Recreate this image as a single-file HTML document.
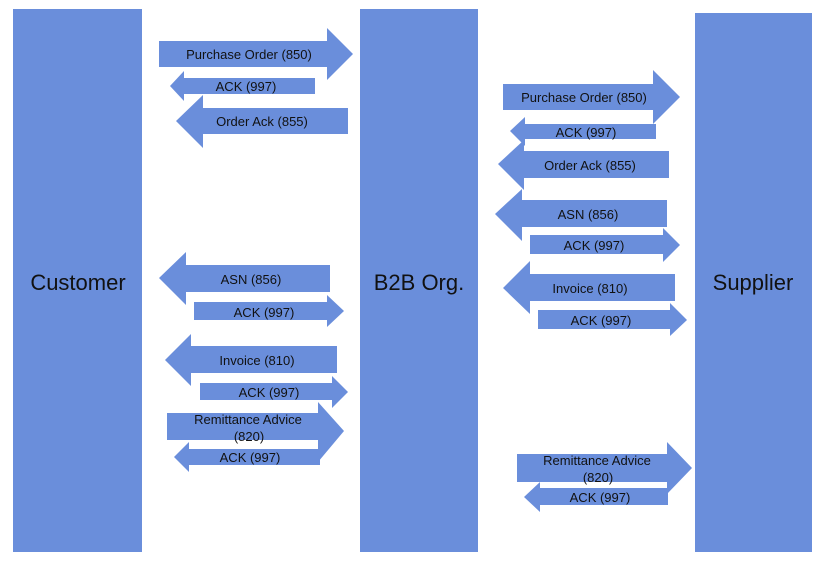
<!DOCTYPE html>
<html><head><meta charset="utf-8"><style>
html,body{margin:0;padding:0;background:#fff;}
svg{display:block;}
text{font-family:"Liberation Sans",Arial,sans-serif;fill:#111;}
</style></head><body>
<svg width="836" height="566" viewBox="0 0 836 566" xmlns="http://www.w3.org/2000/svg">
<g fill="#6a8edb">
<rect x="13" y="9" width="129" height="543"/>
<rect x="360" y="9" width="118" height="543"/>
<rect x="695" y="13" width="117" height="539"/>
<!-- Customer side -->
<polygon points="159,41 327,41 327,28 353,54 327,80 327,67 159,67"/>
<polygon points="315,78 184,78 184,71 170,86 184,101 184,94 315,94"/>
<polygon points="348,108 203,108 203,95 176,121 203,148 203,134 348,134"/>
<polygon points="330,265 186,265 186,252 159,278 186,305 186,292 330,292"/>
<polygon points="194,302 327,302 327,295 344,311 327,327 327,320 194,320"/>
<polygon points="337,346 191,346 191,334 165,360 191,386 191,373 337,373"/>
<polygon points="200,383 332,383 332,376 348,392 332,408 332,400 200,400"/>
<polygon points="167,413 318,413 318,402 344,431 318,462 318,440 167,440"/>
<polygon points="320,449 189,449 189,442 174,457 189,472 189,465 320,465"/>
<!-- Supplier side -->
<polygon points="503,84 653,84 653,70 680,97 653,124 653,110 503,110"/>
<polygon points="656,124 525,124 525,117 510,131 525,146 525,139 656,139"/>
<polygon points="669,151 524,151 524,140 498,164 524,190 524,178 669,178"/>
<polygon points="667,200 522,200 522,189 495,214 522,241 522,227 667,227"/>
<polygon points="530,235 663,235 663,228 680,245 663,262 663,254 530,254"/>
<polygon points="675,274 530,274 530,261 503,288 530,314 530,301 675,301"/>
<polygon points="538,310 670,310 670,303 687,320 670,336 670,329 538,329"/>
<polygon points="517,454 667,454 667,442 692,468 667,494 667,482 517,482"/>
<polygon points="668,488 540,488 540,482 524,497 540,512 540,505 668,505"/>
</g>
<g font-size="22" text-anchor="middle">
<text x="78" y="290">Customer</text>
<text x="419" y="290">B2B Org.</text>
<text x="753" y="290">Supplier</text>
</g>
<g font-size="13" text-anchor="middle">
<text x="249" y="59">Purchase Order (850)</text>
<text x="246" y="91">ACK (997)</text>
<text x="262" y="126">Order Ack (855)</text>
<text x="251" y="284">ASN  (856)</text>
<text x="264" y="317">ACK (997)</text>
<text x="257" y="365">Invoice (810)</text>
<text x="269" y="397">ACK (997)</text>
<text x="248" y="424">Remittance Advice</text>
<text x="249" y="441">(820)</text>
<text x="250" y="462">ACK (997)</text>
<text x="584" y="102">Purchase Order (850)</text>
<text x="586" y="137">ACK (997)</text>
<text x="590" y="170">Order Ack (855)</text>
<text x="588" y="219">ASN  (856)</text>
<text x="594" y="250">ACK (997)</text>
<text x="590" y="293">Invoice (810)</text>
<text x="601" y="325">ACK (997)</text>
<text x="597" y="465">Remittance Advice</text>
<text x="598" y="482">(820)</text>
<text x="600" y="502">ACK (997)</text>
</g>
</svg>
</body></html>
